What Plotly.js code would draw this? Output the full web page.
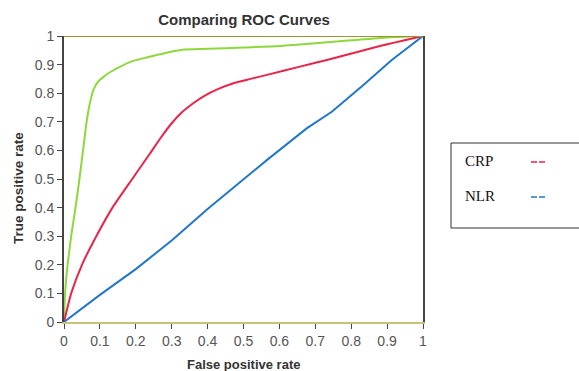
<!DOCTYPE html>
<html>
<head>
<meta charset="utf-8">
<script src="https://cdn.plot.ly/plotly-3.0.1.min.js"></script>
<style>html,body{margin:0;padding:0;background:#fff;}#chart{width:579px;height:371px;}</style>
</head>
<body>
<div id="chart"></div>
<script>
// Green curve (unlabelled)
const greenFpr = [0, 0.003, 0.01, 0.02, 0.032, 0.043, 0.053, 0.063, 0.073, 0.083, 0.095, 0.11, 0.13, 0.16, 0.19, 0.23, 0.28, 0.33, 0.4, 0.5, 0.6, 0.7, 0.8, 0.9, 1];
const greenTpr = [0, 0.1, 0.2, 0.3, 0.4, 0.5, 0.6, 0.7, 0.77, 0.815, 0.84, 0.857, 0.875, 0.895, 0.912, 0.925, 0.94, 0.952, 0.955, 0.96, 0.965, 0.975, 0.985, 0.995, 1];
// CRP
const crpFpr = [0, 0.02, 0.05, 0.09, 0.135, 0.19, 0.24, 0.27, 0.3, 0.33, 0.36, 0.39, 0.43, 0.472, 0.52, 0.565, 0.657, 0.732, 0.88, 1];
const crpTpr = [0, 0.1, 0.2, 0.3, 0.4, 0.5, 0.59, 0.645, 0.695, 0.735, 0.765, 0.79, 0.815, 0.835, 0.85, 0.864, 0.893, 0.916, 0.965, 1];
// NLR
const nlrFpr = [0, 0.1, 0.2, 0.3, 0.4, 0.5, 0.565, 0.676, 0.746, 0.834, 0.913, 1];
const nlrTpr = [0, 0.095, 0.185, 0.285, 0.395, 0.5, 0.566, 0.677, 0.735, 0.829, 0.916, 1];
const tickVals = [0, 0.1, 0.2, 0.3, 0.4, 0.5, 0.6, 0.7, 0.8, 0.9, 1];
const tickText = ['0', '0.1', '0.2', '0.3', '0.4', '0.5', '0.6', '0.7', '0.8', '0.9', '1'];
const legendNames = ['CRP', 'NLR'];
const legendColors = ['#e8254a', '#2277c8'];

const traces = [
  {x: greenFpr, y: greenTpr, mode: 'lines', line: {color: '#8ed83c', width: 2, shape: 'spline', smoothing: 0.5}, showlegend: false},
  {x: crpFpr, y: crpTpr, mode: 'lines', name: legendNames[0], line: {color: legendColors[0], width: 2, shape: 'spline', smoothing: 0.5}, showlegend: false},
  {x: nlrFpr, y: nlrTpr, mode: 'lines', name: legendNames[1], line: {color: legendColors[1], width: 2}, showlegend: false}
];

const plotL = 64, plotR = 423, plotT = 36, plotB = 322;
function px(xp) { return (xp - plotL) / (plotR - plotL); }
function py(yp) { return (plotB - yp) / (plotB - plotT); }

const shapes = [
  {type: 'line', xref: 'x', yref: 'y', x0: 0, x1: 1, y0: 1, y1: 1, line: {color: '#9a9430', width: 2}}
];
const annotations = [
  {xref: 'paper', yref: 'paper', x: px(243.5), y: py(364), xanchor: 'center', yanchor: 'middle', showarrow: false,
    text: '<b>False positive rate</b>', font: {family: 'Liberation Sans, Arial, sans-serif', size: 13, color: '#333'}},
  {xref: 'paper', yref: 'paper', x: px(18), y: py(188), xanchor: 'center', yanchor: 'middle', showarrow: false, textangle: -90,
    text: '<b>True positive rate</b>', font: {family: 'Liberation Sans, Arial, sans-serif', size: 13.5, color: '#333'}}
];
shapes.push({type: 'rect', xref: 'paper', yref: 'paper', x0: px(451), x1: px(580), y0: py(228), y1: py(143), line: {color: '#333', width: 1}});
legendNames.forEach((n, i) => {
  const yc = 161 + i * 35;
  annotations.push({xref: 'paper', yref: 'paper', x: px(463), y: py(yc), xanchor: 'left', yanchor: 'middle', text: n, showarrow: false,
    font: {family: 'Liberation Serif, Times New Roman, serif', size: 15, color: '#111'}});
  shapes.push({type: 'line', xref: 'paper', yref: 'paper', x0: px(531), x1: px(537), y0: py(yc + 1), y1: py(yc + 1), line: {color: legendColors[i], width: 1.5}});
  shapes.push({type: 'line', xref: 'paper', yref: 'paper', x0: px(539), x1: px(545), y0: py(yc + 1), y1: py(yc + 1), line: {color: legendColors[i], width: 1.5}});
});

const layout = {
  width: 579, height: 371,
  margin: {l: 64, r: 156, t: 36, b: 49},
  paper_bgcolor: '#fff', plot_bgcolor: '#fff',
  showlegend: false,
  font: {family: 'Liberation Sans, Arial, sans-serif', size: 13, color: '#555'},
  title: {text: '<b>Comparing ROC Curves</b>', x: 244/579, xanchor: 'center', y: 1 - 20/371, yanchor: 'middle',
    font: {family: 'Liberation Sans, Arial, sans-serif', size: 15, color: '#333'}},
  xaxis: {range: [0, 1], tickvals: tickVals, ticktext: tickText, ticks: 'outside', ticklen: 5, tickcolor: '#444',
    showgrid: false, zeroline: false, showline: true, linecolor: '#c9c27a', linewidth: 2, mirror: false,
    tickfont: {size: 14, color: '#555'}},
  yaxis: {range: [0, 1], tickvals: tickVals, ticktext: tickText, ticks: 'outside', ticklen: 5, tickcolor: '#444',
    showgrid: false, zeroline: false, showline: true, linecolor: '#444', linewidth: 2, mirror: true,
    tickfont: {size: 14, color: '#555'}},
  shapes: shapes,
  annotations: annotations
};
Plotly.newPlot('chart', traces, layout, {displayModeBar: false, staticPlot: true});
</script>
</body>
</html>
